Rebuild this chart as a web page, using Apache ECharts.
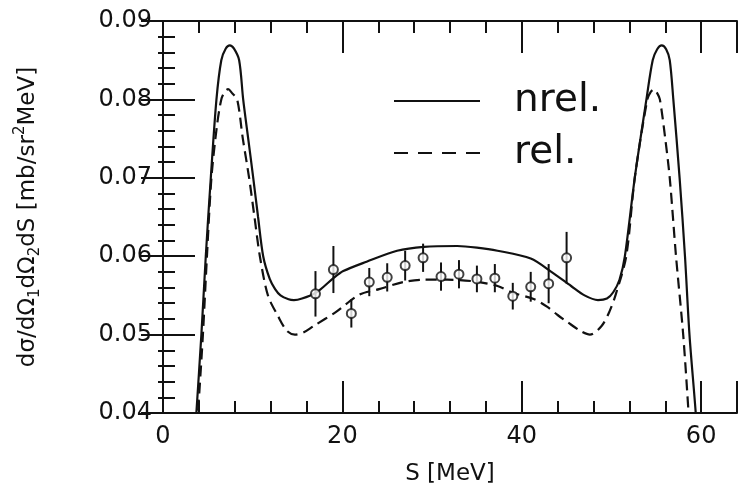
<!DOCTYPE html>
<html>
<head>
<meta charset="utf-8">
<script src="https://cdn.jsdelivr.net/npm/echarts@6/dist/echarts.min.js"></script>
<style>
html,body{margin:0;padding:0;background:#fff;}
#chart{width:746px;height:491px;}
</style>
</head>
<body>
<div id="chart"></div>
<script>
// nrel. curve (solid)
const nrelS = [3.5,3.72,4.28,4.77,5.33,5.96,6.5,7.0,7.45,7.9,8.49,8.94,9.5,10.06,10.6,11.17,11.9,12.5,13.1,14.0,14.6,15.5,17,18,19,20.1,22.7,26.1,29.1,32.8,35,37.3,41,43.3,45.5,47,48.5,49.5,50.2,50.9,51.5,52.6,53.9,54.6,55.1,55.6,56.1,56.5,56.9,57.6,58.2,58.7,59.4,59.6];
const nrelY = [0.036,0.040,0.050,0.060,0.070,0.080,0.085,0.0865,0.0869,0.0865,0.085,0.080,0.075,0.070,0.065,0.060,0.0571,0.0558,0.0550,0.0545,0.0544,0.0546,0.0553,0.0562,0.0572,0.0581,0.0593,0.0607,0.0612,0.0613,0.0611,0.0607,0.0597,0.0580,0.0562,0.0550,0.0544,0.0546,0.0554,0.0570,0.060,0.070,0.080,0.085,0.0864,0.0869,0.0864,0.085,0.080,0.070,0.060,0.050,0.040,0.036];
// rel. curve (dashed)
const relS = [3.65,3.9,4.45,4.9,5.4,6.0,6.5,6.9,7.26,7.7,8.27,8.9,9.6,10.2,10.8,11.7,12.85,13.8,14.7,15.7,16.8,19.3,21.9,24.1,26.8,29.1,31.7,34.6,37.3,39.1,41.4,42.9,44,45.1,46.5,47.6,48.9,49.8,50.5,51.65,52.6,54.0,54.4,54.75,55.1,55.4,56.0,56.5,57.2,58.0,58.6,58.8];
const relY = [0.036,0.040,0.050,0.060,0.070,0.0765,0.080,0.0810,0.0813,0.0808,0.080,0.075,0.070,0.065,0.060,0.055,0.0523,0.0505,0.0500,0.0503,0.0511,0.0529,0.0551,0.0558,0.0567,0.0570,0.0570,0.0568,0.0562,0.0553,0.0545,0.0535,0.0525,0.0516,0.0505,0.0500,0.0511,0.0530,0.0552,0.060,0.070,0.080,0.0810,0.0813,0.0808,0.080,0.075,0.070,0.060,0.050,0.040,0.036];
// measured points
const dataS = [17,19,21,23,25,27,29,31,33,35,37,39,41,43,45];
const dataY = [0.0552,0.0583,0.0527,0.0567,0.0573,0.0588,0.0598,0.0574,0.0577,0.0571,0.0572,0.0549,0.0561,0.0565,0.0598];
const dataErr = [0.0029,0.0030,0.0018,0.0018,0.0018,0.0019,0.0018,0.0018,0.0018,0.0017,0.0018,0.0017,0.0019,0.0025,0.0033];
const xTickLabels = [0,20,40,60];
const yTickLabels = ['0.04','0.05','0.06','0.07','0.08','0.09'];
const seriesNames = ['nrel.','rel.'];

const zip = (a,b) => a.map((v,i)=>[v,b[i]]);
const pts = dataS.map((s,i)=>[s,dataY[i],dataErr[i]]);

const chart = echarts.init(document.getElementById('chart'), null, {renderer:'canvas'});
const labelFont = 'DejaVu Sans';
const ink = '#111';
const commonX = {
  type:'value', min:0, max:64, interval:20,
  axisLine:{show:true,lineStyle:{color:ink,width:2}},
  splitLine:{show:false},
  minorTick:{show:true,splitNumber:5,length:12,lineStyle:{color:ink,width:2}},
  axisTick:{show:true,inside:true,length:32,lineStyle:{color:ink,width:2}}
};
const commonY = {
  type:'value', min:0.04, max:0.09, interval:0.01,
  axisLine:{show:true,lineStyle:{color:ink,width:2}},
  splitLine:{show:false},
  minorTick:{show:true,splitNumber:5,length:12,lineStyle:{color:ink,width:2}},
  axisTick:{show:true,inside:true,length:32,lineStyle:{color:ink,width:2}}
};
chart.setOption({
  animation:false,
  backgroundColor:'#fff',
  grid:{left:163,right:9,top:21,bottom:65,containLabel:false},
  legend:{
    data:[{name:seriesNames[0]},{name:seriesNames[1],lineStyle:{type:[14,10]}}],
    orient:'vertical', left:393, top:78, padding:0, itemWidth:86, itemHeight:2, itemGap:6,
    itemStyle:{color:'rgba(0,0,0,0)',borderWidth:0,opacity:0},
    textStyle:{fontFamily:labelFont,fontSize:39,color:ink,lineHeight:46,padding:[0,0,0,29]},
    selectedMode:false
  },
  xAxis:[
    Object.assign({}, commonX, {
      position:'bottom',
      axisLabel:{show:true,margin:12,fontFamily:labelFont,fontSize:24,color:ink,
        formatter:v=>xTickLabels.indexOf(v)>=0?String(v):''},
      name:'S [MeV]', nameLocation:'middle', nameGap:50,
      nameTextStyle:{fontFamily:labelFont,fontSize:23,color:ink}
    }),
    Object.assign({}, commonX, {position:'top', axisLabel:{show:false}})
  ],
  yAxis:[
    Object.assign({}, commonY, {
      position:'left',
      axisLabel:{show:true,margin:11,fontFamily:labelFont,fontSize:24,color:ink,
        formatter:v=>{const s=v.toFixed(2);return yTickLabels.indexOf(s)>=0?s:'';}},
      name:'dσ/dΩ{sub|1}dΩ{sub|2}dS [mb/sr{sup|2}MeV]', nameLocation:'middle', nameGap:120, nameRotate:90,
      nameTextStyle:{fontFamily:labelFont,fontSize:23,color:ink,lineHeight:30,
        rich:{
          sub:{fontFamily:labelFont,fontSize:15,color:ink,verticalAlign:'bottom',lineHeight:14},
          sup:{fontFamily:labelFont,fontSize:15,color:ink,verticalAlign:'top',lineHeight:14}
        }}
    }),
    Object.assign({}, commonY, {position:'right', axisLabel:{show:false},
      axisTick:{show:true,inside:true,length:22,lineStyle:{color:ink,width:2}},
      minorTick:{show:true,splitNumber:5,length:5,lineStyle:{color:ink,width:2}}})
  ],
  series:[
    {name:seriesNames[0], type:'line', data:zip(nrelS,nrelY), smooth:0.3, showSymbol:false, symbol:'none',
     lineStyle:{color:ink,width:2.2,type:'solid'}, itemStyle:{color:ink}, clip:true, z:2},
    {name:seriesNames[1], type:'line', data:zip(relS,relY), smooth:0.3, showSymbol:false, symbol:'none',
     lineStyle:{color:ink,width:2.2,type:[11,6]}, itemStyle:{color:ink}, clip:true, z:2},
    {name:'err', type:'custom', data:pts, z:3, clip:true,
     encode:{x:0,y:1},
     renderItem:(params,api)=>{
       const x=api.value(0), y=api.value(1), e=api.value(2);
       const p1=api.coord([x,y-e]), p2=api.coord([x,y+e]);
       return {type:'line',shape:{x1:p1[0],y1:p1[1],x2:p2[0],y2:p2[1]},style:{stroke:ink,lineWidth:2}};
     }},
    {name:'data', type:'scatter', data:pts.map(p=>[p[0],p[1]]), symbol:'circle', symbolSize:9, z:4,
     itemStyle:{color:'#fff',borderColor:ink,borderWidth:2}}
  ]
});
</script>
</body>
</html>
